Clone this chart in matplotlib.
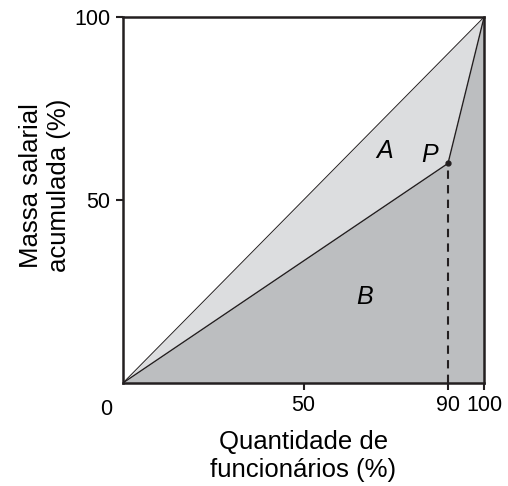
import matplotlib
matplotlib.use("Agg")
import matplotlib.pyplot as plt

plt.rcParams['font.family'] = ['Liberation Sans', 'DejaVu Sans']

# dados da curva
curva_x = [0, 90, 100]
curva_y = [0, 60, 100]
diag_x = [0, 100]
diag_y = [0, 100]
ponto_p = (90, 60)
xticks = [50, 90, 100]
yticks = [50, 100]

cor_a = '#dcdddf'
cor_b = '#bcbec0'

fig = plt.figure(figsize=(5.08, 4.86), dpi=100)
ax = fig.add_axes([0.242, 0.212, 0.711, 0.753])

# área B (abaixo da curva) e área A (entre diagonal e curva)
ax.fill_between(curva_x, curva_y, 0, color=cor_b, lw=0)
ax.fill_between(curva_x, [0, 90, 100], curva_y, color=cor_a, lw=0)
ax.plot(diag_x, diag_y, color='#231f20', lw=0.7)
ax.plot(curva_x, curva_y, color='#231f20', lw=1.0)
ax.plot([ponto_p[0], ponto_p[0]], [0, ponto_p[1]], color='#231f20', lw=1.5, ls=(0, (4, 3)))
ax.plot(*ponto_p, 'o', color='#231f20', ms=3.5)

ax.text(72.5, 63.5, 'A', fontsize=18, style='italic', ha='center', va='center')
ax.text(85, 62.3, 'P', fontsize=18, style='italic', ha='center', va='center')
ax.text(67, 23.5, 'B', fontsize=18, style='italic', ha='center', va='center')

ax.set_xlim(0, 100)
ax.set_ylim(0, 100)
ax.set_xticks(xticks)
ax.set_yticks(yticks)
ax.tick_params(labelsize=15.5, length=5, width=1.5, color='#231f20', pad=4)
ax.text(-4.5, -4.5, '0', fontsize=15.5, ha='center', va='top', transform=ax.transData)
for s in ax.spines.values():
    s.set_linewidth(1.8)
    s.set_color('#231f20')

ax.set_xlabel('Quantidade de\nfuncionários (%)', fontsize=18.5, labelpad=10)
ax.set_ylabel('Massa salarial\nacumulada (%)', fontsize=18.5)
ax.yaxis.set_label_coords(-0.145, 0.54)

fig.savefig('out.png', dpi=100)
